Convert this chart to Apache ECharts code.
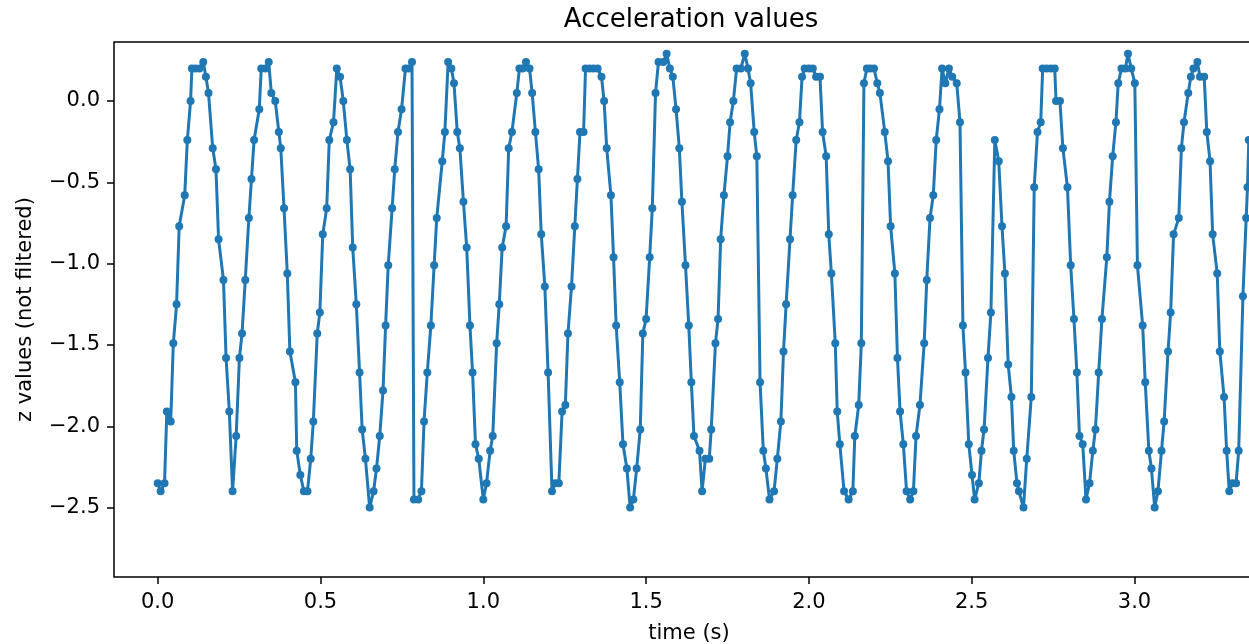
<!DOCTYPE html>
<html>
<head>
<meta charset="utf-8">
<title>Acceleration values</title>
<script src="https://cdn.jsdelivr.net/npm/echarts@6/dist/echarts.min.js"></script>
<style>
html, body { margin: 0; padding: 0; background: #fff; }
#chart { width: 1249px; height: 644px; }
</style>
</head>
<body>
<div id="chart"></div>
<script>
// time stamps (s)
const timeS = [
  0.000, 0.009, 0.021, 0.028, 0.040, 0.048, 0.058, 0.066, 0.083, 0.091,
  0.101, 0.105, 0.116, 0.128, 0.140, 0.148, 0.156, 0.169, 0.179, 0.187,
  0.202, 0.210, 0.220, 0.230, 0.241, 0.251, 0.259, 0.269, 0.280, 0.288,
  0.296, 0.312, 0.318, 0.331, 0.341, 0.349, 0.361, 0.372, 0.378, 0.388,
  0.398, 0.406, 0.423, 0.427, 0.438, 0.449, 0.460, 0.470, 0.478, 0.490,
  0.498, 0.507, 0.519, 0.527, 0.540, 0.550, 0.560, 0.570, 0.581, 0.591,
  0.599, 0.610, 0.620, 0.628, 0.638, 0.651, 0.663, 0.672, 0.682, 0.692,
  0.700, 0.708, 0.720, 0.728, 0.738, 0.749, 0.761, 0.771, 0.781, 0.787,
  0.800, 0.810, 0.818, 0.828, 0.839, 0.849, 0.857, 0.874, 0.882, 0.892,
  0.902, 0.910, 0.920, 0.928, 0.939, 0.949, 0.959, 0.967, 0.976, 0.986,
  1.000, 1.010, 1.021, 1.029, 1.041, 1.049, 1.058, 1.070, 1.078, 1.088,
  1.103, 1.111, 1.121, 1.131, 1.142, 1.150, 1.160, 1.170, 1.178, 1.189,
  1.199, 1.211, 1.221, 1.232, 1.242, 1.252, 1.260, 1.271, 1.281, 1.289,
  1.297, 1.308, 1.314, 1.326, 1.338, 1.351, 1.363, 1.371, 1.379, 1.392,
  1.400, 1.408, 1.419, 1.429, 1.441, 1.451, 1.461, 1.471, 1.482, 1.490,
  1.500, 1.511, 1.519, 1.529, 1.538, 1.553, 1.563, 1.573, 1.582, 1.592,
  1.602, 1.610, 1.621, 1.631, 1.639, 1.647, 1.664, 1.672, 1.682, 1.694,
  1.700, 1.713, 1.721, 1.729, 1.739, 1.750, 1.758, 1.768, 1.778, 1.791,
  1.803, 1.813, 1.821, 1.832, 1.840, 1.850, 1.860, 1.868, 1.879, 1.893,
  1.903, 1.914, 1.922, 1.930, 1.942, 1.950, 1.961, 1.971, 1.979, 1.987,
  2.000, 2.012, 2.022, 2.034, 2.042, 2.053, 2.061, 2.069, 2.081, 2.087,
  2.095, 2.108, 2.122, 2.135, 2.141, 2.153, 2.161, 2.169, 2.178, 2.188,
  2.200, 2.210, 2.218, 2.233, 2.243, 2.251, 2.264, 2.272, 2.280, 2.290,
  2.300, 2.311, 2.321, 2.329, 2.341, 2.354, 2.362, 2.372, 2.382, 2.391,
  2.401, 2.409, 2.419, 2.430, 2.440, 2.454, 2.464, 2.473, 2.481, 2.491,
  2.501, 2.509, 2.522, 2.530, 2.538, 2.550, 2.559, 2.571, 2.583, 2.593,
  2.602, 2.612, 2.622, 2.629, 2.639, 2.645, 2.659, 2.669, 2.683, 2.692,
  2.702, 2.712, 2.718, 2.730, 2.743, 2.755, 2.759, 2.771, 2.780, 2.794,
  2.804, 2.814, 2.823, 2.831, 2.841, 2.851, 2.862, 2.872, 2.880, 2.890,
  2.900, 2.915, 2.923, 2.933, 2.943, 2.950, 2.960, 2.972, 2.980, 2.990,
  3.001, 3.009, 3.025, 3.033, 3.044, 3.052, 3.062, 3.072, 3.083, 3.091,
  3.103, 3.111, 3.120, 3.136, 3.144, 3.152, 3.165, 3.173, 3.181, 3.193,
  3.201, 3.214, 3.222, 3.232, 3.240, 3.254, 3.262, 3.275, 3.283, 3.291,
  3.300, 3.312, 3.320, 3.333, 3.343, 3.347, 3.351
];

// z values (not filtered)
const zValues = [
  -2.35, -2.40, -2.35, -1.91, -1.97, -1.49, -1.25, -0.77, -0.58, -0.24,
   0.00,  0.20,  0.20,  0.20,  0.24,  0.15,  0.05, -0.29, -0.42, -0.85,
  -1.10, -1.58, -1.91, -2.40, -2.06, -1.58, -1.43, -1.10, -0.72, -0.48,
  -0.24, -0.05,  0.20,  0.20,  0.24,  0.05,  0.00, -0.19, -0.29, -0.66,
  -1.06, -1.54, -1.73, -2.15, -2.30, -2.40, -2.40, -2.20, -1.97, -1.43,
  -1.30, -0.82, -0.66, -0.24, -0.13,  0.20,  0.15,  0.00, -0.24, -0.42,
  -0.90, -1.25, -1.67, -2.02, -2.20, -2.50, -2.40, -2.26, -2.06, -1.78,
  -1.38, -1.01, -0.66, -0.42, -0.19, -0.05,  0.20,  0.20,  0.24, -2.45,
  -2.45, -2.40, -1.97, -1.67, -1.38, -1.01, -0.72, -0.37, -0.19,  0.24,
   0.20,  0.11, -0.19, -0.29, -0.62, -0.90, -1.38, -1.67, -2.11, -2.20,
  -2.45, -2.35, -2.15, -2.06, -1.49, -1.25, -0.90, -0.77, -0.29, -0.19,
   0.05,  0.20,  0.20,  0.24,  0.20,  0.05, -0.19, -0.42, -0.82, -1.14,
  -1.67, -2.40, -2.35, -2.35, -1.91, -1.87, -1.43, -1.14, -0.77, -0.48,
  -0.19, -0.19,  0.20,  0.20,  0.20,  0.20,  0.15,  0.00, -0.29, -0.58,
  -0.96, -1.38, -1.73, -2.11, -2.26, -2.50, -2.45, -2.26, -2.02, -1.43,
  -1.34, -0.96, -0.66,  0.05,  0.24,  0.24,  0.29,  0.20,  0.15, -0.05,
  -0.29, -0.62, -1.01, -1.38, -1.73, -2.06, -2.15, -2.40, -2.20, -2.20,
  -2.02, -1.49, -1.34, -0.85, -0.58, -0.34, -0.13,  0.00,  0.20,  0.20,
   0.29,  0.20,  0.11, -0.19, -0.34, -1.73, -2.15, -2.26, -2.45, -2.40,
  -2.20, -1.97, -1.54, -1.25, -0.85, -0.58, -0.24, -0.13,  0.15,  0.20,
   0.20,  0.20,  0.15,  0.15, -0.19, -0.34, -0.82, -1.06, -1.49, -1.91,
  -2.11, -2.40, -2.45, -2.40, -2.06, -1.87, -1.49,  0.11,  0.20,  0.20,
   0.20,  0.11,  0.05, -0.19, -0.37, -0.77, -1.06, -1.58, -1.91, -2.11,
  -2.40, -2.45, -2.40, -2.06, -1.87, -1.49, -1.10, -0.72, -0.58, -0.24,
  -0.05,  0.20,  0.11,  0.20,  0.15,  0.11, -0.13, -1.38, -1.67, -2.11,
  -2.30, -2.45, -2.35, -2.15, -2.02, -1.58, -1.30, -0.24, -0.37, -0.77,
  -1.06, -1.62, -1.82, -2.15, -2.35, -2.40, -2.50, -2.20, -1.82, -0.53,
  -0.19, -0.13,  0.20,  0.20,  0.20,  0.20,  0.00,  0.00, -0.29, -0.53,
  -1.01, -1.34, -1.67, -2.06, -2.11, -2.45, -2.35, -2.15, -2.02, -1.67,
  -1.34, -0.96, -0.62, -0.34, -0.13,  0.11,  0.20,  0.20,  0.29,  0.20,
   0.11, -1.01, -1.38, -1.73, -2.15, -2.26, -2.50, -2.40, -2.15, -1.97,
  -1.54, -1.30, -0.82, -0.72, -0.29, -0.13,  0.05,  0.15,  0.20,  0.24,
   0.15,  0.15, -0.19, -0.37, -0.82, -1.06, -1.54, -1.82, -2.15, -2.40,
  -2.35, -2.35, -2.15, -1.20, -0.72, -0.53, -0.24
];

const xTicks = [0, 0.5, 1, 1.5, 2, 2.5, 3];
const yTicks = [-2.5, -2, -1.5, -1, -0.5, 0];

const chart = echarts.init(document.getElementById('chart'));
const points = timeS.map((t, i) => [t, zValues[i]]);
const fmt = v => v.toFixed(1).replace('-', '\u2212');
const font = 'DejaVu Sans';

let option = {
  animation: false,
  textStyle: { fontFamily: font },
  title: {
    text: 'Acceleration values',
    left: 686,
    top: 2,
    textAlign: 'center',
    textStyle: { fontSize: 26, fontWeight: 'normal', color: '#000', fontFamily: font }
  },
  grid: {
    left: 114,
    right: -15, // right spine is cut off in the picture
    top: 42,
    bottom: 67,
    outerBoundsMode: 'none',
    show: true,
    borderColor: '#000',
    borderWidth: 1.5
  },
  xAxis: {
    type: 'value',
    min: -0.1342,
    max: 3.3977,
    name: 'time (s)',
    nameLocation: 'middle',
    nameGap: 46,
    nameTextStyle: { fontSize: 21, color: '#000', fontFamily: font },
    axisLine: { show: false, onZero: false },
    axisTick: { show: true, length: 7, customValues: xTicks, lineStyle: { color: '#000', width: 1.5 } },
    axisLabel: { customValues: xTicks, formatter: fmt, fontSize: 21, color: '#000', margin: 15, fontFamily: font },
    splitLine: { show: false }
  },
  yAxis: {
    type: 'value',
    min: -2.927,
    max: 0.363,
    name: 'z values (not filtered)',
    nameLocation: 'middle',
    nameGap: 78,
    nameTextStyle: { fontSize: 21, color: '#000', fontFamily: font },
    axisLine: { show: false, onZero: false },
    axisTick: { show: true, length: 7, customValues: yTicks, lineStyle: { color: '#000', width: 1.5 } },
    axisLabel: { customValues: yTicks, formatter: fmt, fontSize: 21, color: '#000', margin: 14, fontFamily: font },
    splitLine: { show: false }
  },
  series: [
    {
      type: 'line',
      data: points,
      symbol: 'circle',
      symbolSize: 8,
      showAllSymbol: true,
      clip: true,
      lineStyle: { color: '#1f77b4', width: 3 },
      itemStyle: { color: '#1f77b4' }
    }
  ]
};
chart.setOption(option);
</script>
</body>
</html>
